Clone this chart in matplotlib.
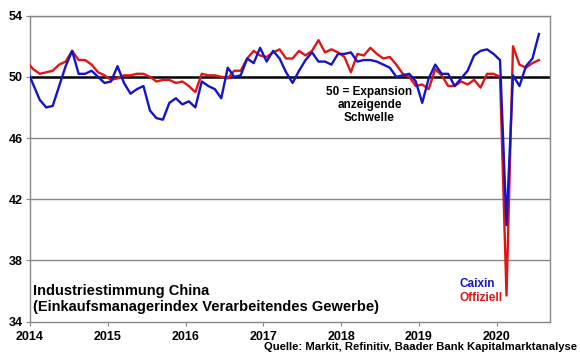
import matplotlib
matplotlib.use("Agg")
import matplotlib.pyplot as plt
import numpy as np

plt.rcParams['font.family'] = ['Liberation Sans', 'DejaVu Sans']

start_year = 2013
start_month = 12  # data begins Dec 2013, axis clipped at 2014

caixin = [50.5,
          49.5, 48.5, 48.0, 48.1, 49.4, 50.7, 51.7, 50.2, 50.2, 50.4, 50.0, 49.6,
          49.7, 50.7, 49.6, 48.9, 49.2, 49.4, 47.8, 47.3, 47.2, 48.3, 48.6, 48.2,
          48.4, 48.0, 49.7, 49.4, 49.2, 48.6, 50.6, 50.0, 50.1, 51.2, 50.9, 51.9,
          51.0, 51.7, 51.2, 50.3, 49.6, 50.4, 51.1, 51.6, 51.0, 51.0, 50.8, 51.5,
          51.5, 51.6, 51.0, 51.1, 51.1, 51.0, 50.8, 50.6, 50.0, 50.1, 50.2, 49.7,
          48.3, 49.9, 50.8, 50.2, 50.2, 49.4, 49.9, 50.4, 51.4, 51.7, 51.8, 51.5,
          51.1, 40.3, 50.1, 49.4, 50.7, 51.2, 52.8]

offiziell = [51.0,
             50.5, 50.2, 50.3, 50.4, 50.8, 51.0, 51.7, 51.1, 51.1, 50.8, 50.3, 50.1,
             49.8, 49.9, 50.1, 50.1, 50.2, 50.2, 50.0, 49.7, 49.8, 49.8, 49.6, 49.7,
             49.4, 49.0, 50.2, 50.1, 50.1, 50.0, 49.9, 50.4, 50.4, 51.2, 51.7, 51.4,
             51.3, 51.6, 51.8, 51.2, 51.2, 51.7, 51.4, 51.7, 52.4, 51.6, 51.8, 51.6,
             51.3, 50.3, 51.5, 51.4, 51.9, 51.5, 51.2, 51.3, 50.8, 50.2, 50.0, 49.4,
             49.5, 49.2, 50.5, 50.1, 49.4, 49.4, 49.7, 49.5, 49.8, 49.3, 50.2, 50.2,
             50.0, 35.7, 52.0, 50.8, 50.6, 50.9, 51.1]

years = [2014, 2015, 2016, 2017, 2018, 2019, 2020]
y_ticks = [34, 38, 42, 46, 50, 54]

n = len(caixin)
months_idx = np.arange(n) + (start_month - 1)
x = start_year + (months_idx + 0.5) / 12.0

fig = plt.figure(figsize=(5.8, 3.59), dpi=100)
ax = fig.add_axes([30/580, 1-321.5/359, 520/580, (321.5-15.7)/359])

ax.set_xlim(2014, 2020.684)
ax.set_ylim(34, 54)

for v in [38, 42, 46, 54]:
    ax.axhline(v, color='#888888', lw=1.0, zorder=1)
ax.axhline(50, color='black', lw=1.8, zorder=2)

ax.plot(x, offiziell, color='#e31414', lw=1.7, zorder=3, solid_joinstyle='round')
ax.plot(x, caixin, color='#1414c8', lw=1.7, zorder=4, solid_joinstyle='round')

ax.set_yticks(y_ticks)
ax.set_xticks(years)
ax.set_yticklabels([str(v) for v in y_ticks], fontsize=9, fontweight='bold')
ax.set_xticklabels([str(v) for v in years], fontsize=9, fontweight='bold')
ax.tick_params(axis='both', direction='out', length=3, width=0.8, color='#888888', pad=2)
ax.tick_params(axis='x', pad=4)

for s in ['left', 'right', 'top', 'bottom']:
    ax.spines[s].set_color('#888888')
    ax.spines[s].set_linewidth(1.0)

fig.text(369.5/580, 1-105/359, "50 = Expansion\nanzeigende\nSchwelle",
         ha='center', va='center', fontsize=8.5, fontweight='bold', linespacing=1.15)

fig.text(33/580, 1-291/359, "Industriestimmung China", ha='left', va='center',
         fontsize=10.5, fontweight='bold')
fig.text(33/580, 1-307/359, "(Einkaufsmanagerindex Verarbeitendes Gewerbe)", ha='left', va='center',
         fontsize=10.5, fontweight='bold')

fig.text(460/580, 1-284/359, "Caixin", ha='left', va='center', fontsize=8.5,
         fontweight='bold', color='#1414c8')
fig.text(460/580, 1-298/359, "Offiziell", ha='left', va='center', fontsize=8.5,
         fontweight='bold', color='#e31414')

fig.text(577/580, 1-347/359, "Quelle: Markit, Refinitiv, Baader Bank Kapitalmarktanalyse",
         ha='right', va='center', fontsize=8.1, fontweight='bold')

fig.savefig("out.png", dpi=100)
